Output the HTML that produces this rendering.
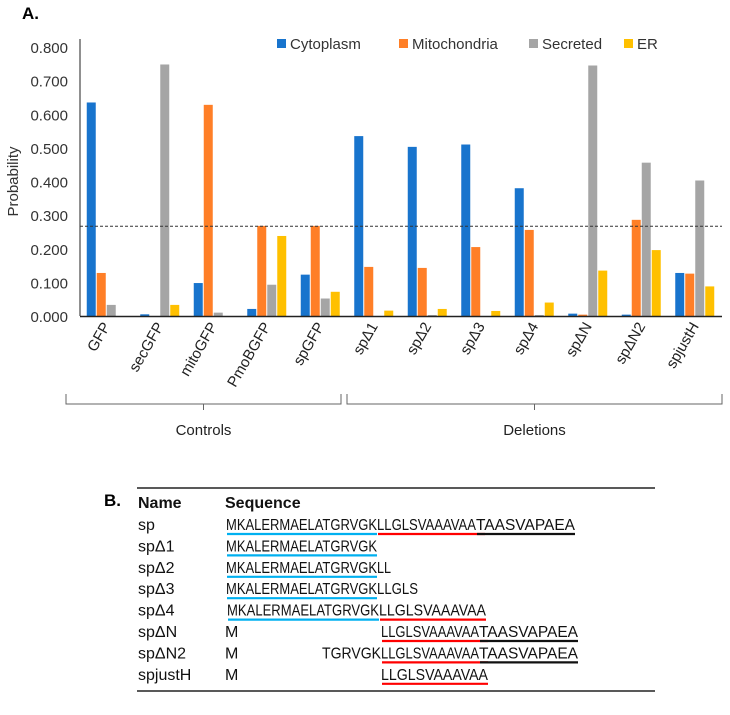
<!DOCTYPE html>
<html><head><meta charset="utf-8"><style>
body{margin:0;background:#fff}
svg{display:block;font-family:"Liberation Sans",sans-serif}
</style></head><body>
<svg id="c" width="730" height="715">
<text x="22" y="19" font-size="17" font-weight="bold">A.</text>
<text x="104" y="506" font-size="17" font-weight="bold">B.</text>
<g id="plot"></g>
<g id="tbl"></g>
</svg>
<script>
const categories=["GFP","secGFP","mitoGFP","PmoBGFP","spGFP","spΔ1","spΔ2","spΔ3","spΔ4","spΔN","spΔN2","spjustH"];
const seriesNames=["Cytoplasm","Mitochondria","Secreted","ER"];
const cytoplasm=[0.635,0.005,0.098,0.021,0.123,0.535,0.503,0.510,0.380,0.007,0.004,0.128];
const mitochondria=[0.128,0,0.628,0.268,0.268,0.146,0.143,0.205,0.256,0.004,0.286,0.126];
const secreted=[0.033,0.748,0.010,0.093,0.052,0,0.003,0,0.003,0.745,0.456,0.403];
const er=[0,0.033,0,0.238,0.072,0.016,0.021,0.015,0.040,0.135,0.196,0.088];
const yTicks=[0,0.1,0.2,0.3,0.4,0.5,0.6,0.7,0.8];
const threshold=0.267;
const colors=["#1874cd","#ff7f27","#a5a5a5","#ffc000"];
const NS="http://www.w3.org/2000/svg";
const X0=80,X1=722,Y0=316,Y8=47;
const yScale=v=>Y0-(v/0.8)*(Y0-Y8);
const band=(X1-X0)/categories.length;
const xc=i=>X0+band*(i+0.5);
function mk(tag,attrs,parent){const e=document.createElementNS(NS,tag);for(const k in attrs)e.setAttribute(k,attrs[k]);parent.appendChild(e);return e;}
const g=document.getElementById('plot');
yTicks.forEach(t=>{const e=mk('text',{x:68,y:yScale(t)+6,'text-anchor':'end','font-size':'15',fill:'#333'},g);e.textContent=t.toFixed(3);

});
const yt=mk('text',{x:0,y:0,transform:'translate(18,'+(yScale(0.4))+') rotate(-90)','text-anchor':'middle','font-size':'15',fill:'#333'},g);yt.textContent="Probability";


const series=[cytoplasm,mitochondria,secreted,er];
const bw=9,gap=1;
series.forEach((s,si)=>{s.forEach((v,i)=>{const x=xc(i)-2*(bw+gap)+si*(bw+gap);
const r=mk('rect',{x:x,y:yScale(v),width:bw,height:Math.max(0,Y0-yScale(v)),fill:colors[si]},g);

});});
const ax=mk('line',{x1:X0,y1:Y8-8,x2:X0,y2:Y0,stroke:'#222','stroke-width':1},g);


const bx=mk('line',{x1:X0,y1:Y0+0.5,x2:X1,y2:Y0+0.5,stroke:'#222','stroke-width':1.5},g);


const th=mk('line',{x1:X0,y1:yScale(threshold),x2:X1,y2:yScale(threshold),stroke:'#333','stroke-width':1,'stroke-dasharray':'3,2'},g);


categories.forEach((c,i)=>{const t=mk('text',{x:0,y:0,transform:'translate('+(xc(i)+4)+','+(Y0+10)+') rotate(-60)','text-anchor':'end','font-size':'15',fill:'#222'},g);t.textContent=c;

});
const lx=[277,399,529,624];
seriesNames.forEach((n,i)=>{const r=mk('rect',{x:lx[i],y:39,width:9,height:9,fill:colors[i]},g);


const t=mk('text',{x:lx[i]+13,y:49,'font-size':'15',fill:'#333'},g);t.textContent=n;

});
function bracket(a,b,label){const p=mk('path',{d:`M${a},394 L${a},404 L${b},404 L${b},394 M${(a+b)/2},404 L${(a+b)/2},410`,stroke:'#666',fill:'none','stroke-width':1},g);


const t=mk('text',{x:(a+b)/2,y:435,'text-anchor':'middle','font-size':'15',fill:'#222'},g);t.textContent=label;

}
bracket(66,341,"Controls");bracket(347,722,"Deletions");
const tb=document.getElementById('tbl');
function hline(x1,x2,yy,col,w){return mk('line',{x1:x1,x2:x2,y1:yy,y2:yy,stroke:col,'stroke-width':w},tb);}
const topRule=hline(137,655,488,'#222',1.5);


const botRule=hline(137,655,691,'#222',1.5);


function txt(x,yy,s,bold,len){const t=mk('text',{x:x,y:yy,'font-size':'16',fill:'#111'},tb);if(bold)t.setAttribute('font-weight','bold');if(len){t.setAttribute('textLength',len);t.setAttribute('lengthAdjust','spacingAndGlyphs');}t.textContent=s;return t;}
const h1=txt(138,508,"Name",true);


const h2=txt(225,508,"Sequence",true);


// [text, [textStart,textEnd], underlineColor, underlineEnd]
const rows=[
 ["sp",[["MKALERMAELATGRVGK",[226,377],'#00b0f0',377],["LLGLSVAAAVAA",[377,476],'#ff0000',485],["TAASVAPAEA",[476,575],'#111',575]]],
 ["spΔ1",[["MKALERMAELATGRVGK",[226,377],'#00b0f0',377]]],
 ["spΔ2",[["MKALERMAELATGRVGK",[226,377],'#00b0f0',377],["LL",[377,391],null]]],
 ["spΔ3",[["MKALERMAELATGRVGK",[226,377],'#00b0f0',377],["LLGLS",[377,418],null]]],
 ["spΔ4",[["MKALERMAELATGRVGK",[227,379],'#00b0f0',379],["LLGLSVAAAVAA",[379,486],'#ff0000',486]]],
 ["spΔN",[["M",[225,236],null],["LLGLSVAAAVAA",[381,479],'#ff0000',488],["TAASVAPAEA",[479,578],'#111',578]]],
 ["spΔN2",[["M",[225,236],null],["TGRVGK",[322,381],null],["LLGLSVAAAVAA",[381,479],'#ff0000',488],["TAASVAPAEA",[479,578],'#111',578]]],
 ["spjustH",[["M",[225,236],null],["LLGLSVAAAVAA",[381,488],'#ff0000',488]]]
];
rows.forEach((r,i)=>{const cy=525+i*21.4;
const n=txt(138,cy+5,r[0]);


r[1].forEach(s=>{const x=s[1][0],w=s[1][1]-s[1][0];
const t=txt(x,cy+5,s[0],false,s[0].length>1?w:null);


if(s[2]){const u=hline(x+1,s[3],cy+9,s[2],2.2);

}});});
</script>
</body></html>
